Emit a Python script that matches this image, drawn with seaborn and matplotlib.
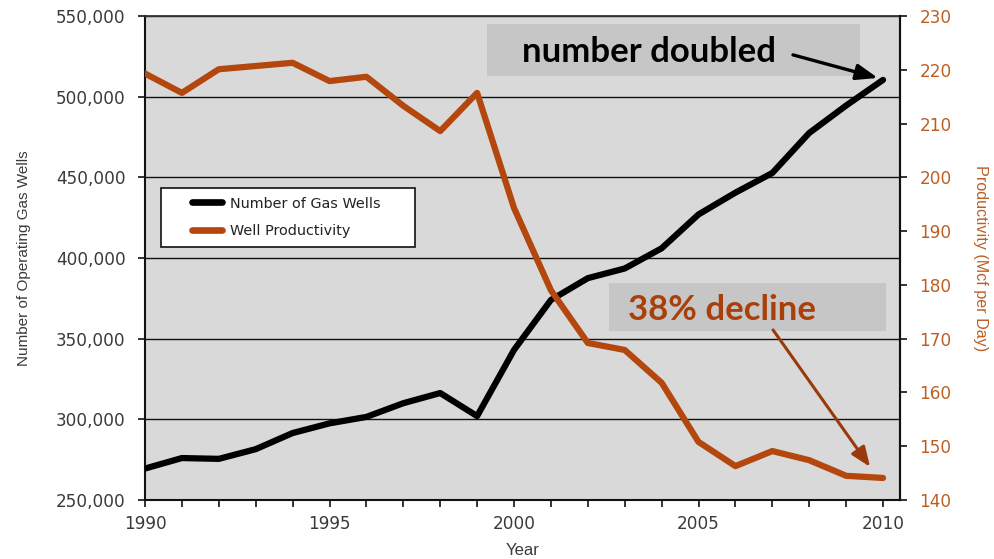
import matplotlib
matplotlib.use("Agg")
import matplotlib.pyplot as plt
from matplotlib.lines import Line2D
from matplotlib.patches import Rectangle
from matplotlib.ticker import FuncFormatter, MultipleLocator
import numpy as np
import pandas as pd
import seaborn as sns

# U.S. operating gas wells and average well productivity, 1990-2010
years = list(range(1990, 2011))
gas_wells = [269500, 276000, 275500, 281500, 291500, 297500, 301500, 310000,
             316300, 302000, 343000, 374000, 387500, 393500, 406000, 427000,
             440500, 452700, 477500, 494500, 510400]
productivity = [219.3, 215.7, 220.1, 220.7, 221.3, 217.9, 218.7, 213.3,
                208.6, 215.7, 194.3, 179.0, 169.2, 167.9, 161.8, 150.8,
                146.3, 149.1, 147.4, 144.5, 144.1]

left_ticks = [250000, 300000, 350000, 400000, 450000, 500000, 550000]
right_ticks = [140, 150, 160, 170, 180, 190, 200, 210, 220, 230]
year_ticks = [1990, 1995, 2000, 2005, 2010]

series_labels = ["Number of Gas Wells", "Well Productivity"]

df = pd.DataFrame({"Year": years, "Wells": gas_wells, "Productivity": productivity})

sns.set_style("white")
plt.rcParams["font.family"] = ["DejaVu Sans"]

BLACK = "#000000"
ORANGE = "#B3470D"
ORANGE_TEXT = "#A8400C"
ORANGE_TICK = "#BD5F24"
ARROW_BROWN = "#9A3A0C"
BG = "#D9D9D9"
BOX = "#C6C6C6"
TXT = "#3a3a3a"
LABEL_FONT = ["Liberation Sans", "DejaVu Sans"]
CALLOUT_FONT = ["Lato", "DejaVu Sans"]

fig = plt.figure(figsize=(9.94, 5.59), dpi=100)
ax = fig.add_axes([145 / 994, 1 - 500 / 559, 755 / 994, 484 / 559])
ax.set_facecolor(BG)

sns.lineplot(data=df, x="Year", y="Wells", ax=ax, color=BLACK, linewidth=4.5,
             legend=False, zorder=3)
ax.set_xlim(1990, 2010.46)
ax.set_ylim(left_ticks[0], left_ticks[-1])
ax.set_yticks(left_ticks)
ax.yaxis.set_major_formatter(FuncFormatter(lambda v, p: f"{int(v):,}"))
ax.set_xticks(year_ticks)
ax.xaxis.set_minor_locator(MultipleLocator(1))
ax.grid(axis="y", color="#111111", linewidth=1.0)
ax.set_axisbelow(True)
ax.tick_params(axis="both", which="both", direction="out", length=5, width=1.2,
               color="#111111", labelsize=12.2, labelcolor=TXT)
ax.tick_params(axis="y", left=True, pad=9)
ax.tick_params(axis="x", bottom=True, which="both", pad=6)
ax.set_xlabel("Year", fontsize=12, color=TXT, labelpad=7, family=LABEL_FONT)
ax.set_ylabel("Number of Operating Gas Wells", fontsize=11, color=TXT,
              labelpad=18, family=LABEL_FONT)
for side in ["left", "bottom", "right"]:
    ax.spines[side].set_color("#111111")
    ax.spines[side].set_linewidth(1.5)
ax.spines["top"].set_color("#333333")
ax.spines["top"].set_linewidth(1.3)

ax2 = ax.twinx()
sns.lineplot(data=df, x="Year", y="Productivity", ax=ax2, color=ORANGE,
             linewidth=4.5, legend=False, zorder=3)
ax2.set_ylim(right_ticks[0], right_ticks[-1])
ax2.set_yticks(right_ticks)
ax2.set_xlim(1990, 2010.46)
ax2.tick_params(axis="y", direction="out", length=5, width=1.2, color="#111111",
                labelsize=12.2, labelcolor=ORANGE_TICK, pad=9, right=True)
ax2.set_ylabel("Productivity (Mcf per Day)", fontsize=11.6, color=ORANGE_TICK,
               rotation=270, labelpad=26, family=LABEL_FONT)
ax2.spines["right"].set_color("#111111")
ax2.spines["right"].set_linewidth(1.5)
for side in ["left", "bottom", "top"]:
    ax2.spines[side].set_visible(False)

# Legend: framed box with items inset
ax2.add_patch(Rectangle((0.0212, 0.5227), 0.3364, 0.1219, transform=ax2.transAxes,
                        facecolor="white", edgecolor="#111111", linewidth=1.2,
                        zorder=5))
handles = [Line2D([0], [0], color=BLACK, lw=4.8, solid_capstyle="round"),
           Line2D([0], [0], color=ORANGE, lw=4.8, solid_capstyle="round")]
leg = ax2.legend(handles, series_labels, loc="upper left",
                 bbox_to_anchor=(0.0623, 0.627), frameon=False, fontsize=10.4,
                 handlelength=2.1, handletextpad=0.55, borderpad=0,
                 labelspacing=0.95, borderaxespad=0)
for t in leg.get_texts():
    t.set_color("#222222")
leg.set_zorder(6)

# Callout: well count
ax2.add_patch(Rectangle((0.453, 0.876), 0.494, 0.107, transform=ax2.transAxes,
                        facecolor=BOX, edgecolor="none", zorder=1))
ax2.text(0.499, 0.905, "number doubled", transform=ax2.transAxes,
         fontsize=25, fontweight="bold", family=CALLOUT_FONT,
         color=BLACK, va="baseline", ha="left", zorder=5)
ax2.annotate("", xy=(2009.86, 511600), xytext=(2007.56, 525900),
             xycoords=ax.transData, textcoords=ax.transData,
             arrowprops=dict(arrowstyle="-|>,head_length=0.65,head_width=0.24",
                             color=BLACK, lw=2.4, mutation_scale=20,
                             shrinkA=0, shrinkB=0),
             zorder=6)

# Callout: productivity decline
ax2.add_patch(Rectangle((0.615, 0.349), 0.366, 0.099, transform=ax2.transAxes,
                        facecolor=BOX, edgecolor="none", zorder=1))
ax2.text(0.640, 0.372, "38% decline", transform=ax2.transAxes,
         fontsize=25, fontweight="bold", family=CALLOUT_FONT,
         color=ORANGE_TEXT, va="baseline", ha="left", zorder=5)
ax2.annotate("", xy=(2009.65, 270500), xytext=(2007.02, 355400),
             xycoords=ax.transData, textcoords=ax.transData,
             arrowprops=dict(arrowstyle="-|>,head_length=0.6,head_width=0.24",
                             color=ARROW_BROWN, lw=2.2, mutation_scale=20,
                             shrinkA=0, shrinkB=0),
             zorder=6)

fig.savefig("out.png", dpi=100)
